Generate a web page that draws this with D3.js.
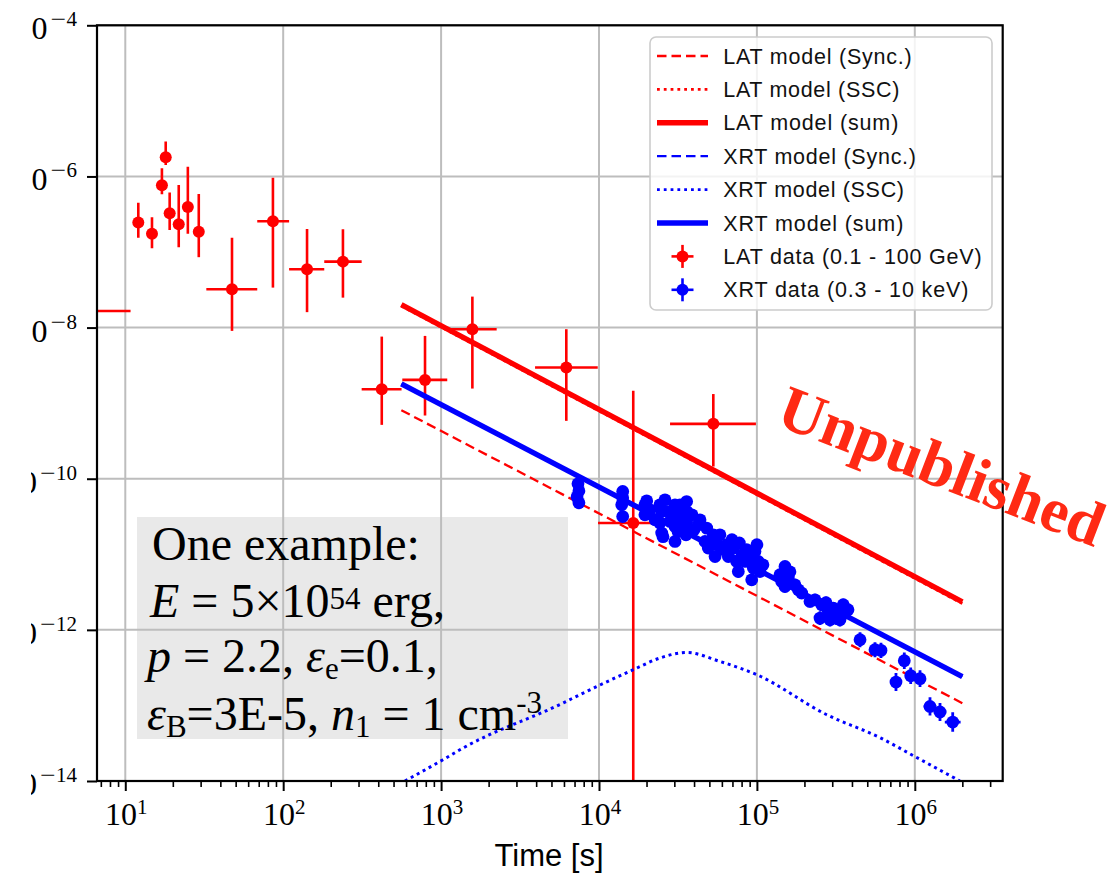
<!DOCTYPE html>
<html><head><meta charset="utf-8">
<script src="https://cdn.jsdelivr.net/npm/d3@7"></script>
<style>body{margin:0;background:#fff}svg{display:block}</style>
</head><body>
<svg id="c" width="1119" height="876"></svg>
<script>
// ---------- LAT data (0.1 - 100 GeV) ----------
const latTime   = [3.5, 12.09, 14.76, 17.06, 18.03, 19.1, 21.8, 24.9, 29.2, 47.4, 86.1, 141.6, 239, 421, 791, 1578, 6209, 16480, 52970];
const latTimeLo = [1.0, 12.09, 14.76, 17.06, 18.03, 19.1, 21.8, 24.9, 29.2, 32.6, 68.5, 109, 182, 314, 568, 1138, 3936, 9860, 28180];
const latTimeHi = [10.8, 12.09, 14.76, 17.06, 18.03, 19.1, 21.8, 24.9, 29.2, 68.5, 109, 182, 314, 562, 1094, 2249, 9819, 22650, 98600];
const latFlux   = [1.66e-8, 2.45e-7, 1.75e-7, 7.65e-7, 1.79e-6, 3.26e-7, 2.33e-7, 3.95e-7, 1.86e-7, 3.22e-8, 2.55e-7, 5.92e-8, 7.46e-8, 1.53e-9, 2.03e-9, 9.52e-9, 2.96e-9, 2.59e-11, 5.32e-10];
const latFluxLo = [1.66e-8, 1.55e-7, 1.12e-7, 5.82e-7, 1.42e-6, 1.96e-7, 1.16e-7, 1.75e-7, 8.54e-8, 9.04e-9, 3.38e-8, 1.60e-8, 2.49e-8, 5.16e-10, 6.86e-10, 1.56e-9, 5.83e-10, 1e-17, 1.45e-10];
const latFluxHi = [1.66e-8, 4.50e-7, 2.89e-7, 1.28e-6, 2.89e-6, 6.11e-7, 7.72e-7, 1.34e-6, 5.87e-7, 1.54e-7, 9.64e-7, 2.02e-7, 2.00e-7, 7.60e-9, 7.76e-9, 2.57e-8, 9.52e-9, 1.46e-9, 1.32e-9];

// ---------- XRT data (0.3 - 10 keV) ----------
const xrtTime = [
  7360, 7460, 7260, 7460, 14130, 14130, 13930, 14130, 20050, 19540,
  19540, 24300, 24950, 24300, 24950, 25430, 30290, 31040, 30290, 30290,
  31650, 35890, 36040, 35890, 35560, 27350, 28180, 33440, 42560, 48090,
  52970, 49210, 54330, 46920, 55090, 64420, 70940, 77400, 65930, 74480,
  76250, 86100, 97200, 90400, 102100, 94900, 92700, 104600, 84100, 150600,
  140000, 143500, 158100, 150600, 183000, 192100, 216900, 257300, 251000, 283300,
  304800, 352300, 361300, 320100, 290400, 449900, 559500, 610700, 858000, 760000,
  942000, 1079000, 1248000, 1444000, 1738000,
  21040, 22650, 26180, 32580, 34040, 38820, 39950, 43620, 58300, 61800,
  69500, 80500, 100000, 109200, 161900, 174100, 233300, 274000, 335800, 377500];
const xrtFlux = [
  8.57e-11, 6.90e-11, 5.75e-11, 4.80e-11, 6.77e-11, 5.58e-11, 4.52e-11, 3.16e-11, 5.09e-11, 4.52e-11,
  3.33e-11, 4.52e-11, 3.68e-11, 2.59e-11, 1.91e-11, 1.71e-11, 4.52e-11, 3.33e-11, 2.33e-11, 1.48e-11,
  2.00e-11, 4.99e-11, 3.68e-11, 2.59e-11, 1.81e-11, 3.68e-11, 2.72e-11, 3.01e-11, 2.46e-11, 2.22e-11,
  1.81e-11, 1.21e-11, 9.35e-12, 1.48e-11, 1.41e-11, 1.34e-11, 1.21e-11, 1.41e-11, 9.35e-12, 8.04e-12,
  5.92e-12, 1.15e-11, 1.09e-11, 8.91e-12, 8.04e-12, 6.57e-12, 4.60e-12, 5.92e-12, 8.04e-12, 6.90e-12,
  5.36e-12, 4.37e-12, 4.84e-12, 3.75e-12, 3.39e-12, 3.07e-12, 2.38e-12, 2.15e-12, 1.43e-12, 1.75e-12,
  1.94e-12, 2.15e-12, 1.67e-12, 1.43e-12, 1.36e-12, 7.40e-13, 5.46e-13, 5.35e-13, 3.90e-13, 2.04e-13,
  2.47e-13, 2.26e-13, 9.70e-14, 8.18e-14, 6.03e-14,
  3.88e-11, 2.86e-11, 5.26e-11, 4.52e-11, 2.24e-11, 3.33e-11, 2.11e-11, 2.86e-11, 1.81e-11, 1.15e-11,
  1.56e-11, 9.84e-12, 1.34e-11, 7.26e-12, 5.86e-12, 3.95e-12, 2.50e-12, 2.29e-12, 1.36e-12, 1.85e-12];
const xrtFluxErrDex = [
  0.05, 0.05, 0.05, 0.05, 0.05, 0.05, 0.05, 0.05, 0.05, 0.05,
  0.05, 0.05, 0.05, 0.05, 0.06, 0.06, 0.05, 0.05, 0.06, 0.06,
  0.06, 0.05, 0.05, 0.05, 0.06, 0.05, 0.05, 0.05, 0.06, 0.06,
  0.06, 0.06, 0.07, 0.06, 0.06, 0.06, 0.06, 0.06, 0.07, 0.07,
  0.08, 0.06, 0.06, 0.07, 0.07, 0.07, 0.08, 0.07, 0.07, 0.07,
  0.07, 0.08, 0.08, 0.08, 0.08, 0.08, 0.08, 0.08, 0.09, 0.08,
  0.08, 0.08, 0.08, 0.09, 0.09, 0.10, 0.10, 0.10, 0.11, 0.12,
  0.11, 0.11, 0.12, 0.12, 0.13,
  0.05, 0.05, 0.05, 0.05, 0.06, 0.05, 0.06, 0.06, 0.06, 0.07,
  0.06, 0.07, 0.06, 0.07, 0.07, 0.08, 0.08, 0.08, 0.09, 0.08];
const xrtTimeErrDex = [
  0.01, 0.01, 0.01, 0.01, 0.01, 0.01, 0.01, 0.01, 0.01, 0.01,
  0.01, 0.01, 0.01, 0.01, 0.01, 0.01, 0.01, 0.01, 0.01, 0.01,
  0.01, 0.01, 0.01, 0.01, 0.01, 0.01, 0.01, 0.01, 0.01, 0.01,
  0.01, 0.01, 0.01, 0.01, 0.01, 0.01, 0.01, 0.01, 0.01, 0.01,
  0.01, 0.01, 0.01, 0.01, 0.01, 0.01, 0.01, 0.01, 0.01, 0.01,
  0.01, 0.01, 0.01, 0.01, 0.01, 0.01, 0.01, 0.01, 0.01, 0.01,
  0.01, 0.01, 0.01, 0.01, 0.01, 0.02, 0.02, 0.02, 0.03, 0.03,
  0.03, 0.03, 0.04, 0.04, 0.05,
  0.01, 0.01, 0.01, 0.01, 0.01, 0.01, 0.01, 0.01, 0.01, 0.01,
  0.01, 0.01, 0.01, 0.01, 0.01, 0.01, 0.01, 0.01, 0.01, 0.01];

// ---------- model curves ----------
const modelTime    = [560, 2.0e6];
const latSyncFlux  = [8.07e-10, 1.07e-13];
const latSSCFlux   = [1.93e-8, 2.23e-12];
const latSumFlux   = [2.01e-8, 2.34e-12];
const xrtSyncFlux  = [1.79e-9, 2.40e-13];
const xrtSumFlux   = [1.80e-9, 2.41e-13];
const xrtSSCTime   = [590, 1028, 1377, 5943, 7586, 16480, 24300, 35890, 58300, 99800, 2.77e5, 6.03e5, 1.0e6, 1.93e6];
const xrtSSCFlux   = [1.0e-14, 1.91e-14, 2.73e-14, 1.08e-13, 1.39e-13, 2.97e-13, 4.24e-13, 5.02e-13, 3.82e-13, 2.55e-13, 7.53e-14, 3.74e-14, 2.11e-14, 1.0e-14];

// ---------- axes / labels ----------
const xMajorTicks = [1e1, 1e2, 1e3, 1e4, 1e5, 1e6];
const xMajorExp   = ["1", "2", "3", "4", "5", "6"];
const yMajorTicks = [1e-14, 1e-12, 1e-10, 1e-8, 1e-6, 1e-4];
const yMajorExp   = ["14", "12", "10", "8", "6", "4"];
const xLabel = "Time [s]";

const legendLabels = ["LAT model (Sync.)", "LAT model (SSC)", "LAT model (sum)", "XRT model (Sync.)", "XRT model (SSC)", "XRT model (sum)", "LAT data (0.1 - 100 GeV)", "XRT data (0.3 - 10 keV)"];
const annotationTitle = "One example:";
const watermark = "Unpublished";

// ================= drawing =================
const RED = "#ff0000", BLUE = "#0000ff";
const svg = d3.select("#c");
const L = 97, R = 1002.7, T = 25.3, B = 781;
const x = d3.scaleLog().domain([6.62, 3.603e6]).range([L, R]);
const y = d3.scaleLog().domain([1e-14, 1e-4]).range([B, T]);

svg.append("defs").append("clipPath").attr("id", "clip")
  .append("rect").attr("x", L).attr("y", T).attr("width", R - L).attr("height", B - T);

// annotation box background
svg.append("rect").attr("x", 137).attr("y", 517).attr("width", 431).attr("height", 222).attr("fill", "#e9e9e9");

// grid
const grid = svg.append("g").attr("stroke", "#bdbdbd").attr("stroke-width", 2);
grid.selectAll(".gx").data(xMajorTicks).join("line").attr("class", "gx")
  .attr("x1", d => x(d)).attr("x2", d => x(d)).attr("y1", T).attr("y2", B);
grid.selectAll(".gy").data(yMajorTicks).join("line").attr("class", "gy")
  .attr("x1", L).attr("x2", R).attr("y1", d => y(d)).attr("y2", d => y(d));

const plot = svg.append("g").attr("clip-path", "url(#clip)");

// LAT data
const latIdx = d3.range(latTime.length);
const latG = plot.append("g").attr("stroke", RED).attr("stroke-width", 2.6);
latG.selectAll(".ex").data(latIdx).join("line")
  .attr("x1", i => x(latTimeLo[i])).attr("x2", i => x(latTimeHi[i]))
  .attr("y1", i => y(latFlux[i])).attr("y2", i => y(latFlux[i]));
latG.selectAll(".ey").data(latIdx).join("line").attr("class", "ey")
  .attr("x1", i => x(latTime[i])).attr("x2", i => x(latTime[i]))
  .attr("y1", i => y(latFluxLo[i])).attr("y2", i => y(latFluxHi[i]));
plot.append("g").selectAll("circle").data(latIdx.slice(1)).join("circle")
  .attr("cx", i => x(latTime[i])).attr("cy", i => y(latFlux[i])).attr("r", 6).attr("fill", RED);

// model lines
const line = d3.line().x(d => x(d[0])).y(d => y(d[1]));
const pairs = (ts, fs) => ts.map((t, i) => [t, fs[i]]);
plot.append("path").attr("d", line(pairs(modelTime, latSSCFlux))).attr("fill", "none")
  .attr("stroke", RED).attr("stroke-width", 2.8).attr("stroke-dasharray", "2.8,4");
plot.append("path").attr("d", line(pairs(modelTime, latSumFlux))).attr("fill", "none")
  .attr("stroke", RED).attr("stroke-width", 5.4);
plot.append("path").attr("d", line(pairs(modelTime, latSyncFlux))).attr("fill", "none")
  .attr("stroke", RED).attr("stroke-width", 2.3).attr("stroke-dasharray", "9.5,5");
plot.append("path").attr("d", line(pairs(modelTime, xrtSyncFlux))).attr("fill", "none")
  .attr("stroke", BLUE).attr("stroke-width", 2.3).attr("stroke-dasharray", "9.5,5");
const curveLine = d3.line().x(d => x(d[0])).y(d => y(d[1])).curve(d3.curveMonotoneX);
plot.append("path").attr("d", curveLine(pairs(xrtSSCTime, xrtSSCFlux))).attr("fill", "none")
  .attr("stroke", BLUE).attr("stroke-width", 3).attr("stroke-dasharray", "3,3.8");
plot.append("path").attr("d", line(pairs(modelTime, xrtSumFlux))).attr("fill", "none")
  .attr("stroke", BLUE).attr("stroke-width", 5.4);

// XRT data
const xrtIdx = d3.range(xrtTime.length);
const xrtG = plot.append("g").attr("stroke", BLUE).attr("stroke-width", 2.8);
xrtG.selectAll(".ex").data(xrtIdx).join("line")
  .attr("x1", i => x(xrtTime[i] / Math.pow(10, xrtTimeErrDex[i]))).attr("x2", i => x(xrtTime[i] * Math.pow(10, xrtTimeErrDex[i])))
  .attr("y1", i => y(xrtFlux[i])).attr("y2", i => y(xrtFlux[i]));
xrtG.selectAll(".ey").data(xrtIdx).join("line").attr("class", "ey")
  .attr("x1", i => x(xrtTime[i])).attr("x2", i => x(xrtTime[i]))
  .attr("y1", i => y(xrtFlux[i] / Math.pow(10, xrtFluxErrDex[i]))).attr("y2", i => y(xrtFlux[i] * Math.pow(10, xrtFluxErrDex[i])));
plot.append("g").selectAll("circle").data(xrtIdx).join("circle")
  .attr("cx", i => x(xrtTime[i])).attr("cy", i => y(xrtFlux[i])).attr("r", 6.4).attr("fill", BLUE);

// axes ticks
const xAx = svg.append("g").attr("transform", `translate(0,${B})`)
  .call(d3.axisBottom(x).tickValues(xMajorTicks).tickSize(10).tickFormat(""));
const minor = [];
for (let e = 0; e <= 6; e++) for (let m = 2; m <= 9; m++) { const v = m * Math.pow(10, e); if (v > 6.62 && v < 3.603e6) minor.push(v); }
const xAxMin = svg.append("g").attr("transform", `translate(0,${B})`)
  .call(d3.axisBottom(x).tickValues(minor).tickSize(6).tickFormat(""));
const yAx = svg.append("g").attr("transform", `translate(${L},0)`)
  .call(d3.axisLeft(y).tickValues(yMajorTicks).tickSize(10).tickFormat(""));
[xAx, xAxMin, yAx].forEach(g => { g.select(".domain").remove(); g.selectAll("line").attr("stroke", "#000").attr("stroke-width", 2); });
xAxMin.selectAll("line").attr("stroke-width", 1.6);

// frame
svg.append("rect").attr("x", L).attr("y", T).attr("width", R - L).attr("height", B - T)
  .attr("fill", "none").attr("stroke", "#000").attr("stroke-width", 2.2);

// tick labels
const SERIF = "'Liberation Serif', serif";
const lab = svg.append("g").attr("font-family", SERIF).attr("fill", "#000");
xMajorTicks.forEach((v, i) => {
  const t = lab.append("text").attr("x", x(v) + 1).attr("y", 825).attr("text-anchor", "middle").attr("font-size", 32);
  t.append("tspan").text("10");
  t.append("tspan").attr("dy", -11).attr("font-size", 21).text(xMajorExp[i]);
});
yMajorTicks.forEach((v, i) => {
  const yy = y(v);
  const dig = lab.append("text").attr("x", 77).attr("y", yy + 1).attr("text-anchor", "end").attr("font-size", 21).text(yMajorExp[i]);
  const wd = dig.node().getComputedTextLength();
  const minusEnd = 77 - wd - 0.5;
  lab.append("text").attr("x", minusEnd - 15.5).attr("y", yy + 1).attr("font-size", 21)
    .attr("textLength", 15.5).attr("lengthAdjust", "spacingAndGlyphs").text("\u2212");
  lab.append("text").attr("x", minusEnd - 18.5).attr("y", yy + 14).attr("text-anchor", "end").attr("font-size", 32).text("10");
});
// left edge of the figure is cut off in the reference
svg.append("rect").attr("x", 0).attr("y", 0).attr("width", 31).attr("height", 876).attr("fill", "#fff");

svg.append("text").attr("x", 549).attr("y", 866).attr("text-anchor", "middle")
  .attr("font-family", "'Liberation Sans', sans-serif").attr("font-size", 31).text(xLabel);

// legend
const lg = svg.append("g");
lg.append("rect").attr("x", 650).attr("y", 37).attr("width", 342).attr("height", 273).attr("rx", 6)
  .attr("fill", "#fff").attr("fill-opacity", 0.82).attr("stroke", "#cccccc").attr("stroke-width", 1.6);
const lgStyle = [
  {c: RED, w: 2.3, dash: "9.5,5"}, {c: RED, w: 2.8, dash: "2.8,4"}, {c: RED, w: 5.4, dash: null},
  {c: BLUE, w: 2.3, dash: "9.5,5"}, {c: BLUE, w: 2.8, dash: "2.8,4"}, {c: BLUE, w: 5.4, dash: null},
  {c: RED, marker: true}, {c: BLUE, marker: true}];
const lgTextEnd = [911.7, 899.3, 898.3, 916, 904, 903.3, 981.7, 968.3];
legendLabels.forEach((lbl, i) => {
  const ry = 56 + i * 33.4, st = lgStyle[i];
  if (st.marker) {
    lg.append("line").attr("x1", 671.5).attr("x2", 693.5).attr("y1", ry).attr("y2", ry).attr("stroke", st.c).attr("stroke-width", 2.6);
    lg.append("line").attr("x1", 682.5).attr("x2", 682.5).attr("y1", ry - 11.5).attr("y2", ry + 11.5).attr("stroke", st.c).attr("stroke-width", 2.6);
    lg.append("circle").attr("cx", 682.5).attr("cy", ry).attr("r", 6).attr("fill", st.c);
  } else {
    lg.append("line").attr("x1", 657).attr("x2", 708).attr("y1", ry).attr("y2", ry)
      .attr("stroke", st.c).attr("stroke-width", st.w).attr("stroke-dasharray", st.dash);
  }
  lg.append("text").attr("x", 723.3).attr("y", ry + 7.5).attr("font-family", "'Liberation Sans', sans-serif")
    .attr("font-size", 21.5).attr("fill", "#111")
    .attr("textLength", lgTextEnd[i] - 723.3).attr("lengthAdjust", "spacing").text(lbl);
});

// annotation text
const ann = svg.append("g").attr("font-family", SERIF).attr("font-size", 48).attr("fill", "#000");
ann.append("text").attr("x", 152).attr("y", 560).text(annotationTitle);
const l2 = ann.append("text").attr("x", 150).attr("y", 617);
l2.append("tspan").attr("font-style", "italic").text("E");
l2.append("tspan").text(" = 5×10");
l2.append("tspan").attr("dy", -8).attr("font-size", 31).text("54");
l2.append("tspan").attr("dy", 8).text(" erg,");
const l3 = ann.append("text").attr("x", 147).attr("y", 672);
l3.append("tspan").attr("font-style", "italic").text("p");
l3.append("tspan").text(" = 2.2, ");
l3.append("tspan").attr("font-style", "italic").text("ε");
l3.append("tspan").attr("dy", 7).attr("font-size", 31).text("e");
l3.append("tspan").attr("dy", -7).text("=0.1,");
const l4 = ann.append("text").attr("x", 147).attr("y", 730);
l4.append("tspan").attr("font-style", "italic").text("ε");
l4.append("tspan").attr("dy", 7).attr("font-size", 31).text("B");
l4.append("tspan").attr("dy", -7).text("=3E-5, ");
l4.append("tspan").attr("font-style", "italic").text("n");
l4.append("tspan").attr("dy", 7).attr("font-size", 31).text("1");
l4.append("tspan").attr("dy", -7).text(" = 1 cm");
l4.append("tspan").attr("dy", -17).attr("font-size", 31).text("-3");

// watermark
svg.append("text").attr("transform", "translate(941,468) rotate(21)").attr("y", 19)
  .attr("text-anchor", "middle").attr("font-family", SERIF)
  .attr("font-weight", "bold").attr("font-size", 63).attr("fill", "#ff2a14").text(watermark);
</script>
</body></html>
